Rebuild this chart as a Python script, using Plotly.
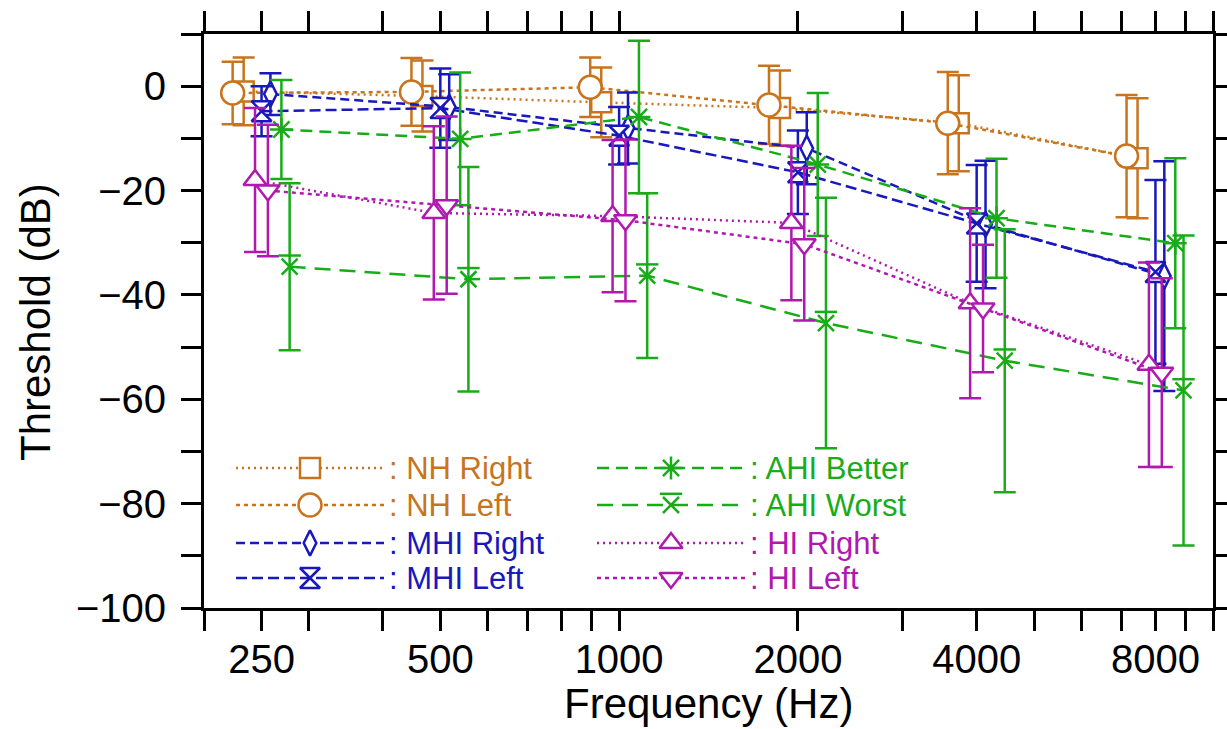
import math
import plotly.graph_objects as go

# ---------------- data ----------------
freqs = [250, 500, 1000, 2000, 4000, 8000]

nh_right = [-1.0, -1.9, -3.1, -4.2, -7.1, -13.8]
nh_right_sd = [6.5, 6.8, 6.7, 7.2, 9.2, 11.5]
nh_left = [-1.3, -1.1, -0.2, -3.6, -7.1, -13.4]
nh_left_sd = [6.0, 6.5, 5.7, 7.5, 9.8, 11.7]
mhi_right = [-1.5, -4.0, -8.0, -11.9, -26.5, -36.4]
mhi_right_sd = [4.0, 6.3, 6.8, 6.9, 12.2, 22.0]
mhi_left = [-4.8, -4.2, -9.5, -16.5, -26.3, -35.6]
mhi_left_sd = [4.8, 7.6, 5.5, 8.0, 11.2, 17.6]
ahi_better = [-8.3, -10.1, -5.9, -15.0, -25.3, -30.1]
ahi_better_sd = [9.5, 12.7, 14.6, 13.7, 11.4, 16.3]
ahi_worst = [-34.6, -37.0, -36.3, -45.4, -52.6, -58.3]
ahi_worst_sd = [16.0, 21.5, 15.8, 24.0, 25.2, 29.7]
hi_right = [-18.0, -24.3, -24.9, -26.2, -41.6, -53.4]
hi_right_sd = [13.8, 16.6, 14.6, 14.8, 18.2, 19.6]
hi_left = [-20.0, -22.8, -25.7, -30.3, -42.6, -54.9]
hi_left_sd = [12.6, 17.0, 15.5, 14.6, 12.2, 18.1]

x_tick_vals = [200, 250, 500, 1000, 2000, 4000, 8000, 10000]
x_tick_text = ["", "250", "500", "1000", "2000", "4000", "8000", ""]
x_minor_vals = [300, 400, 600, 700, 800, 900, 3000, 5000, 6000, 7000, 9000]
y_tick_vals = list(range(-100, 11, 10))
y_tick_text = ["\u2212100", "", "\u221280", "", "\u221260", "", "\u221240", "",
               "\u221220", "", "0", ""]

# ---------------- styling ----------------
ORANGE = "#C8741C"
BLUE = "#1818BC"
GREEN = "#18AC18"
MAGENTA = "#B018B0"

W, H = 1227, 729
ML, MR, MT, MB = 204, 14, 34, 121
PW, PH = W - ML - MR, H - MT - MB
Y_LO, Y_HI = -100, 10
X_LO, X_HI = 200, 10000

FONT = "Liberation Sans, Arial, sans-serif"

# name, values, sd, colour, dash, symbol, size, filled, x-jitter factor, legend column/row
series = [
    ("NH Right", nh_right, nh_right_sd, ORANGE, "2px,4px", "square", 20, True, 0.933, 0, 0),
    ("NH Left", nh_left, nh_left_sd, ORANGE, "4px,4px", "circle", 23, True, 0.894, 0, 1),
    ("MHI Right", mhi_right, mhi_right_sd, BLUE, "9px,5px", "diamond-tall", 18, True, 1.035, 0, 2),
    ("MHI Left", mhi_left, mhi_left_sd, BLUE, "11px,5px", "hourglass", 20, True, 1.0, 0, 3),
    ("AHI Better", ahi_better, ahi_better_sd, GREEN, "12px,7px", "asterisk-open", 19, False, 1.08, 1, 0),
    ("AHI Worst", ahi_worst, ahi_worst_sd, GREEN, "16px,9px", "x-thin-open", 16, False, 1.115, 1, 1),
    ("HI Right", hi_right, hi_right_sd, MAGENTA, "2px,4px", "triangle-up", 20, True, 0.975, 1, 2),
    ("HI Left", hi_left, hi_left_sd, MAGENTA, "4px,4px", "triangle-down", 20, True, 1.025, 1, 3),
]

LW = 2.5
px_per_db = PH / (Y_HI - Y_LO)


def bar_offset_px(size):
    # the x-thin arms reach 0.7*size from the centre
    return 0.7 * size


# legend geometry (fractions of the plot area)
leg_rows = [(608 - yy) / PH for yy in (468, 505, 543, 578)]
leg_cols = [
    dict(x0=(236 - ML) / PW, x1=(384 - ML) / PW),
    dict(x0=(597 - ML) / PW, x1=(745 - ML) / PW),
]


def marker_style(color, symbol, size, filled):
    if filled:
        return dict(symbol=symbol, size=size, color="white",
                    line=dict(color=color, width=LW))
    return dict(symbol=symbol, size=size, color=color,
                line=dict(color=color, width=LW))


fig = go.Figure()
bar_shift_db = 0.0

for name, vals, sd, color, dash, symbol, size, filled, jit, col, row in series:
    xs = [f * jit for f in freqs]
    fig.add_trace(go.Scatter(
        x=xs, y=vals, mode="lines+markers", name=name,
        line=dict(color=color, width=LW, dash=dash),
        marker=marker_style(color, symbol, size, filled),
        error_y=dict(type="data", array=sd, visible=True, color=color,
                     thickness=LW, width=11),
        showlegend=False, hoverinfo="skip",
    ))
    if symbol == "x-thin-open":
        # bar across the top of the X, drawn on a shifted twin axis
        bar_shift_db = bar_offset_px(size) / px_per_db
        fig.add_trace(go.Scatter(
            x=xs, y=vals, mode="markers", yaxis="y2",
            marker=dict(symbol="line-ew-open", size=size, color=color,
                        line=dict(color=color, width=LW)),
            showlegend=False, hoverinfo="skip",
        ))

    # hand-built legend entry
    lc = leg_cols[col]
    ly = leg_rows[row]
    xm = 0.5 * (lc["x0"] + lc["x1"])
    fig.add_trace(go.Scatter(
        x=[lc["x0"], lc["x1"]], y=[ly, ly], mode="lines",
        xaxis="x2", yaxis="y3",
        line=dict(color=color, width=LW, dash=dash),
        showlegend=False, hoverinfo="skip",
    ))
    fig.add_trace(go.Scatter(
        x=[xm], y=[ly], mode="markers", xaxis="x2", yaxis="y3",
        marker=marker_style(color, symbol, size, filled),
        showlegend=False, hoverinfo="skip",
    ))
    if symbol == "x-thin-open":
        fig.add_trace(go.Scatter(
            x=[xm], y=[ly + bar_offset_px(size) / PH], mode="markers",
            xaxis="x2", yaxis="y3",
            marker=dict(symbol="line-ew-open", size=size, color=color,
                        line=dict(color=color, width=LW)),
            showlegend=False, hoverinfo="skip",
        ))
    fig.add_annotation(
        x=lc["x1"] + 3 / PW, y=ly, xref="paper", yref="paper",
        text=": " + name, showarrow=False, xanchor="left", yanchor="middle",
        font=dict(family=FONT, size=31, color=color),
    )

axis_common = dict(
    showline=True, linecolor="black", linewidth=3,
    ticks="outside", tickcolor="black", tickwidth=2.5, ticklen=20,
    mirror="allticks", showgrid=False, zeroline=False, automargin=False,
    tickfont=dict(family=FONT, size=40, color="black"),
)

fig.update_layout(
    width=W, height=H,
    margin=dict(l=ML, r=MR, t=MT, b=MB, pad=0, autoexpand=False),
    paper_bgcolor="white", plot_bgcolor="white",
    showlegend=False,
    xaxis=dict(
        type="log", range=[math.log10(X_LO), math.log10(X_HI)],
        tickmode="array", tickvals=x_tick_vals, ticktext=x_tick_text,
        ticklabelstandoff=-6,
        minor=dict(tickmode="array", tickvals=x_minor_vals, ticks="outside",
                   ticklen=11, tickwidth=2.5, tickcolor="black", showgrid=False),
        **axis_common,
    ),
    yaxis=dict(
        range=[Y_LO, Y_HI], tickmode="array",
        tickvals=y_tick_vals, ticktext=y_tick_text,
        ticklabelstandoff=7,
        **axis_common,
    ),
    yaxis2=dict(
        overlaying="y", range=[Y_LO - bar_shift_db, Y_HI - bar_shift_db],
        visible=False, showgrid=False, zeroline=False, automargin=False,
    ),
    xaxis2=dict(overlaying="x", range=[0, 1], visible=False, anchor="y3",
                showgrid=False, zeroline=False, automargin=False),
    yaxis3=dict(overlaying="y", range=[0, 1], visible=False, anchor="x2",
                showgrid=False, zeroline=False, automargin=False),
)

# axis titles
fig.add_annotation(
    x=(708 - ML) / PW, y=(608 - 703) / PH, xref="paper", yref="paper",
    text="Frequency (Hz)", showarrow=False, xanchor="center", yanchor="middle",
    font=dict(family=FONT, size=42, color="black"),
)
fig.add_annotation(
    x=(35 - ML) / PW, y=(608 - 322) / PH, xref="paper", yref="paper",
    text="Threshold (dB)", showarrow=False, textangle=-90,
    xanchor="center", yanchor="middle",
    font=dict(family=FONT, size=42, color="black"),
)

fig.write_html("out.html")
